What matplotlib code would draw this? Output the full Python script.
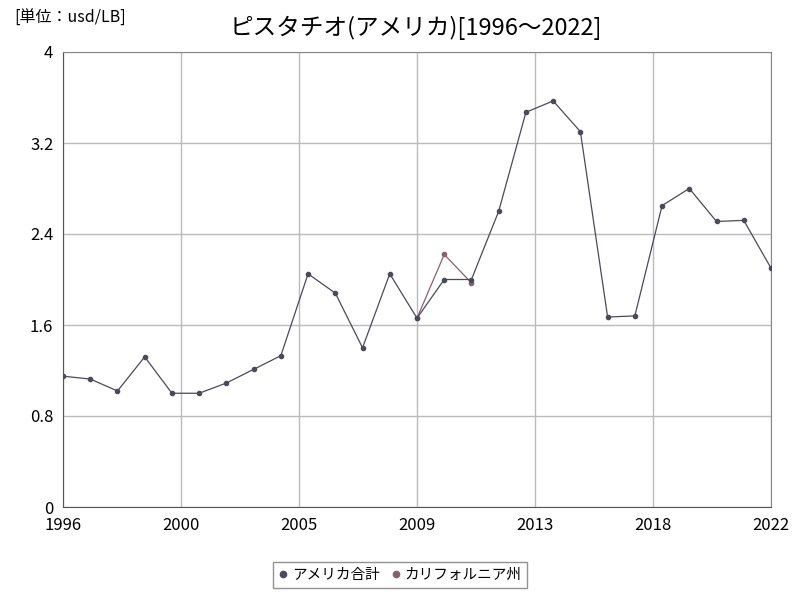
import matplotlib
matplotlib.use("Agg")
import matplotlib.pyplot as plt
import numpy as np

plt.rcParams['font.family'] = ['Noto Sans CJK JP', 'DejaVu Sans']

years = list(range(1996, 2023))
usa_total = [1.15, 1.125, 1.02, 1.32, 1.00, 1.00, 1.09, 1.21, 1.33, 2.05,
             1.88, 1.40, 2.05, 1.66, 2.00, 2.00, 2.60, 3.47, 3.57, 3.30,
             1.67, 1.68, 2.65, 2.80, 2.51, 2.52, 2.10]
cal_years = [2009, 2010, 2011]
california = [1.66, 2.22, 1.97]

y_ticks = [0, 0.8, 1.6, 2.4, 3.2, 4]

fig = plt.figure(figsize=(8, 6), dpi=100)
ax = fig.add_axes([63/800, 1-507/600, (771-63)/800, (507-52)/600])

ax.plot(cal_years, california, color='#8a6070', lw=0.9, marker='o', ms=3,
        label='カリフォルニア州', zorder=3)
ax.plot(years, usa_total, color='#4a4a5a', lw=0.9, marker='o', ms=3,
        label='アメリカ合計', zorder=4)

# evenly spaced x ticks, labels rounded to whole years
xt = np.linspace(years[0], years[-1], 7)
ax.set_xticks(xt)
ax.set_xticklabels([str(int(round(v))) for v in xt])
ax.set_xlim(years[0], years[-1])
ax.set_ylim(0, 4)
ax.set_yticks(y_ticks)
ax.set_yticklabels(['0', '0.8', '1.6', '2.4', '3.2', '4'])
ax.grid(True, color='#bbbbbb', lw=1)
ax.set_axisbelow(True)
ax.tick_params(length=0, labelsize=12, pad=7)
for s in ax.spines.values():
    s.set_color('#888888')
ax.spines['left'].set_color('#555555')
ax.spines['bottom'].set_color('#555555')

fig.text(0.52, 0.953, 'ピスタチオ(アメリカ)[1996～2022]', ha='center', va='center', fontsize=17)
fig.text(0.018, 0.97, '[単位：usd/LB]', ha='left', va='center', fontsize=11.5)

h, l = ax.get_legend_handles_labels()
leg = fig.legend(h[::-1], l[::-1], loc='center', bbox_to_anchor=(0.5, 1 - 575/600), ncol=2,
                 frameon=True, fancybox=False, edgecolor='#777777', fontsize=10.5,
                 handlelength=0.6, handletextpad=0.3, columnspacing=0.8,
                 borderpad=0.4, markerscale=1.5)
for line in leg.get_lines():
    line.set_linestyle('')

fig.savefig('out.png', dpi=100)
